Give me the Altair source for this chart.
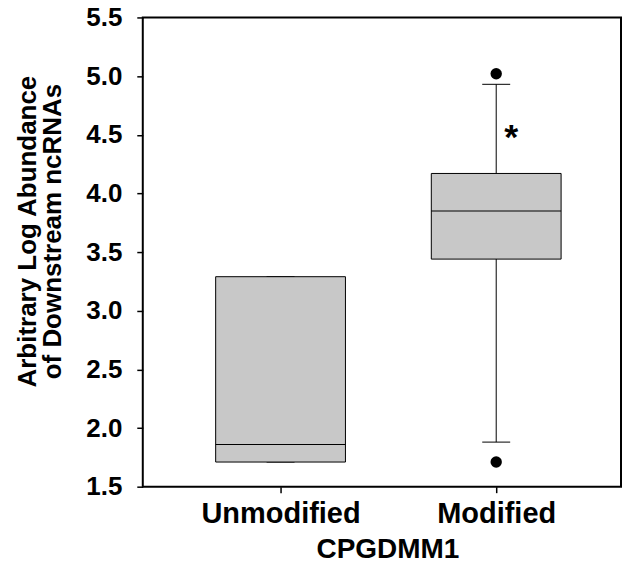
import altair as alt
import pandas as pd

categories = ["Unmodified", "Modified"]
q1 = [1.71, 3.44]
median = [1.86, 3.85]
q3 = [3.29, 4.17]
whisker_lo = [1.71, 1.88]
whisker_hi = [3.29, 4.93]

outlier_cats = ["Modified", "Modified"]
outlier_vals = [5.02, 1.71]

star_cats = ["Modified"]
star_vals = [4.52]
star_text = ["*"]

y_ticks = [1.5, 2.0, 2.5, 3.0, 3.5, 4.0, 4.5, 5.0, 5.5]

box_df = pd.DataFrame({"cat": categories, "q1": q1, "median": median, "q3": q3,
                       "lo": whisker_lo, "hi": whisker_hi})
out_df = pd.DataFrame({"cat": outlier_cats, "v": outlier_vals})
star_df = pd.DataFrame({"cat": star_cats, "v": star_vals, "t": star_text})

FONT = "Liberation Sans"

xscale = alt.Scale(type="point", domain=categories, range=[138, 354], padding=0)
yscale = alt.Scale(domain=[1.5, 5.5], nice=False, zero=False)

xenc = alt.X("cat:N", scale=xscale, sort=categories,
             axis=alt.Axis(title="CPGDMM1", domain=False, tickSize=6, tickWidth=1.5,
                           tickColor="black", labelFont=FONT, labelFontSize=29,
                           labelFontWeight="bold", labelColor="black", labelAngle=0,
                           labelBaseline="alphabetic", labelPadding=30,
                           titleFont=FONT, titleFontSize=28, titleFontWeight="bold",
                           titleColor="black", titleX=245, titleY=71,
                           titleBaseline="alphabetic"))

yaxis = alt.Axis(title=["Arbitrary Log Abundance", "of Downstream ncRNAs"],
                 values=y_ticks, format=".1f", domain=False, grid=False,
                 tickSize=6, tickWidth=1.5, tickColor="black",
                 labelFont=FONT, labelFontSize=26, labelFontWeight="bold",
                 labelColor="black", labelPadding=15,
                 titleFont=FONT, titleFontSize=26, titleFontWeight="bold",
                 titleColor="black", titleLineHeight=25,
                 titleX=-115, titleY=214, titleAlign="center", titleBaseline="middle")

base = alt.Chart(box_df)

whisk = base.mark_rule(color="black", strokeWidth=1).encode(
    x=xenc, y=alt.Y("lo:Q", scale=yscale, axis=yaxis), y2="hi:Q")

cap_lo = base.mark_tick(orient="horizontal", size=28, thickness=1, color="black", opacity=1).encode(
    x=alt.X("cat:N", scale=xscale, sort=categories), y=alt.Y("lo:Q", scale=yscale))
cap_hi = base.mark_tick(orient="horizontal", size=28, thickness=1, color="black", opacity=1).encode(
    x=alt.X("cat:N", scale=xscale, sort=categories), y=alt.Y("hi:Q", scale=yscale))

box = base.mark_bar(size=130, fill="#c8c8c8", stroke="black", strokeWidth=1).encode(
    x=alt.X("cat:N", scale=xscale, sort=categories), y=alt.Y("q1:Q", scale=yscale), y2="q3:Q")

med = base.mark_tick(orient="horizontal", size=130, thickness=1, color="black", opacity=1).encode(
    x=alt.X("cat:N", scale=xscale, sort=categories), y=alt.Y("median:Q", scale=yscale))

outs = alt.Chart(out_df).mark_circle(size=130, color="black", opacity=1).encode(
    x=alt.X("cat:N", scale=xscale, sort=categories), y=alt.Y("v:Q", scale=yscale))

star = alt.Chart(star_df).mark_text(font=FONT, fontSize=36, fontWeight="bold", color="black",
                                    dx=15, dy=6, baseline="middle").encode(
    x=alt.X("cat:N", scale=xscale, sort=categories), y=alt.Y("v:Q", scale=yscale), text="t:N")

chart = alt.layer(whisk, cap_lo, cap_hi, box, med, outs, star).properties(
    width=479, height=470,
    autosize=alt.AutoSizeParams(type="none"),
    padding={"left": 135, "top": 9, "right": 1, "bottom": 80},
).configure_view(stroke="black", strokeWidth=2)

chart.save("out.html", embed_options={"renderer": "svg", "actions": False})
